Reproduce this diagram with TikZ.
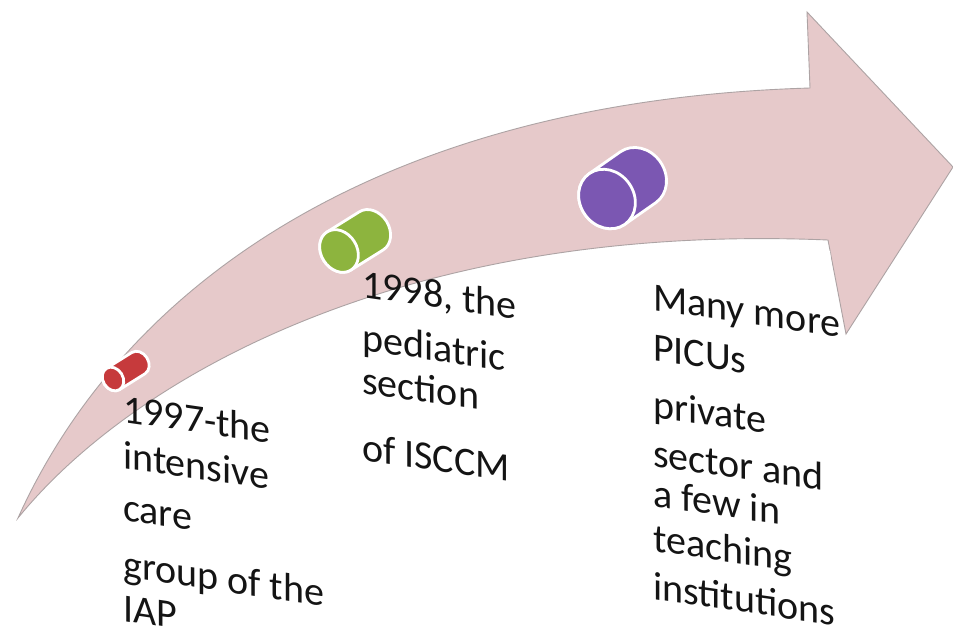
\documentclass[tikz,border=0pt]{standalone}
\usepackage{fontspec}
\setmainfont{Carlito}
\definecolor{arrowpink}{HTML}{E6C9CA}
\definecolor{arrowedge}{HTML}{ADA3A4}
\definecolor{cylred}{HTML}{C63A3C}
\definecolor{cylgreen}{HTML}{8DB43E}
\definecolor{cylpurple}{HTML}{7B57B2}
% tilted cylinder: #1 front centre, #2 axis angle, #3 length, #4 face half-depth, #5 radius, #6 colour
\newcommand\tubeicon[6]{%
  \begin{scope}[shift={#1}, rotate=#2]
    \path[fill=#6, draw=white, line width=2.8pt, line join=round]
      (0,#5) -- (#3,#5)
      arc[start angle=90, end angle=-90, x radius=#4, y radius=#5]
      -- (0,-#5)
      arc[start angle=-90, end angle=-270, x radius=#4, y radius=#5] -- cycle;
    \path[fill=#6, draw=white, line width=2.8pt] (0,0) ellipse[x radius=#4, y radius=#5];
  \end{scope}}
\begin{document}
\begin{tikzpicture}[x=1pt, y=1pt,
  bigarrow/.style={fill=arrowpink, draw=arrowedge, line width=0.9pt, line join=miter},
  label/.style={anchor=base west, inner sep=0pt, font=\fontsize{40}{48}\selectfont, text=black!92},
  slanted/.style={yslant=-0.145, transform shape}]
\useasboundingbox (0,0) rectangle (953,-635);
\fill[white] (0,0) rectangle (953,-635);

% curved timeline arrow
\path[bigarrow] (18,-518) .. controls (130,-270) and (400,-100) .. (810,-88)
  -- (807,-12) -- (953,-167) -- (846,-334) -- (828,-240)
  .. controls (400,-222) and (130,-380) .. (18,-518) -- cycle;

% milestone cylinders
\tubeicon{(113,-379)}{32}{30}{10}{12.5}{cylred}
\tubeicon{(339,-251)}{32}{38}{18}{22.5}{cylgreen}
\tubeicon{(607,-199)}{35}{38}{27}{31}{cylpurple}

% backing panel of the last milestone text
\fill[white] (575,-254) -- (830,-251) -- (840,-340) -- (840,-635) -- (575,-635) -- cycle;

% milestone texts
\begin{scope}[shift={(123,0)}, slanted]
  \node[label] (a1) at (0,-422) {1997-the};
  \node[label] (a2) at (0,-468) {intensive};
  \node[label] (a3) at (0,-520) {care};
  \node[label] (a4) at (0,-577) {group of the};
  \node[label] (a5) at (0,-621) {IAP};
\end{scope}
\begin{scope}[shift={(362,0)}, slanted]
  \node[label] (b1) at (0,-297) {1998, the};
  \node[label] (b2) at (0,-350) {pediatric};
  \node[label] (b3) at (0,-393) {section};
  \node[label] (b4) at (0,-460) {of ISCCM};
\end{scope}
\begin{scope}[shift={(653,0)}, slanted]
  \node[label] (c1) at (0,-310) {Many more};
  \node[label] (c2) at (0,-360) {PICUs};
  \node[label] (c3) at (0,-417) {private};
  \node[label] (c4) at (0,-466) {sector and};
  \node[label] (c5) at (0,-506) {a few in};
  \node[label] (c6) at (0,-551) {teaching};
  \node[label] (c7) at (0,-599) {institutions};
\end{scope}
\end{tikzpicture}
\end{document}
